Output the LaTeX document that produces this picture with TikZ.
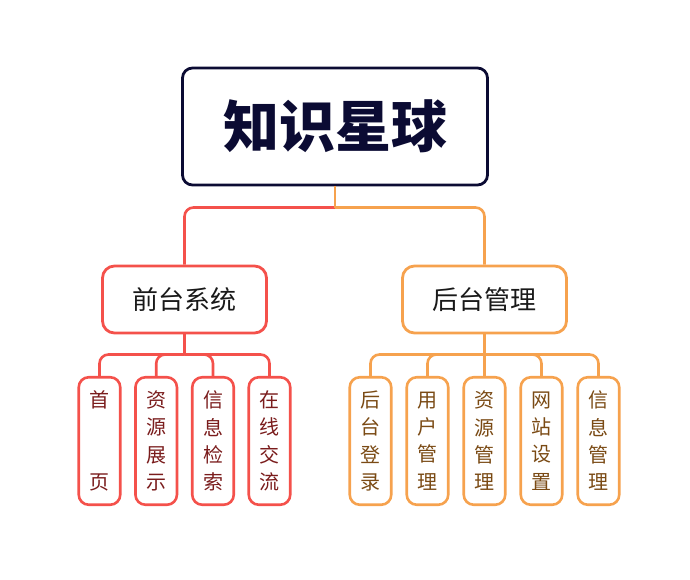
\documentclass[tikz,border=0pt]{standalone}
\usepackage{fontspec}
\setmainfont{Noto Sans CJK SC}
\usetikzlibrary{positioning, calc}
\definecolor{navy}{HTML}{0B0B33}
\definecolor{redline}{HTML}{F4514B}
\definecolor{orangeline}{HTML}{F6A24E}
\definecolor{redtext}{HTML}{7A1C1C}
\definecolor{browntext}{HTML}{7A4A14}

\begin{document}
\begin{tikzpicture}[x=1pt, y=-1pt,
    rootbox/.style={draw=navy, line width=2.8pt, rounded corners=10pt,
        minimum width=305pt, minimum height=117pt, text=navy,
        font=\fontsize{56}{60}\selectfont\bfseries},
    midbox/.style={draw=#1, line width=2.8pt, rounded corners=12pt,
        minimum width=164pt, minimum height=67pt, text=black!90,
        font=\fontsize{26}{30}\selectfont},
    leafbox/.style={draw=#1, line width=2.6pt, rounded corners=10pt,
        minimum width=41.5pt, minimum height=127.5pt, inner sep=0pt,
        align=center, font=\fontsize{20}{27.3}\selectfont},
    link/.style={draw=#1, line width=2.6pt, rounded corners=9pt}]
    \useasboundingbox (0,0) rectangle (690,579);

    % top
    \node[rootbox] (root) at (335,126.5) {知识星球};
    \node[midbox=redline] (front) at (184.5,299.5) {前台系统};
    \node[midbox=orangeline] (back) at (484.5,299.5) {后台管理};

    % leaves
    \foreach \i/\x/\txt in {1/99.5/{首\\\mbox{}\\\mbox{}\\页},
                            2/156.2/{资\\源\\展\\示},
                            3/213/{信\\息\\检\\索},
                            4/269.5/{在\\线\\交\\流}}
        \node[leafbox=redline, text=redtext] (f\i) at (\x,441) {\txt};
    \foreach \i/\x/\txt in {1/370.5/{后\\台\\登\\录},
                            2/427.5/{用\\户\\管\\理},
                            3/484.5/{资\\源\\管\\理},
                            4/541.5/{网\\站\\设\\置},
                            5/598.5/{信\\息\\管\\理}}
        \node[leafbox=orangeline, text=browntext] (b\i) at (\x,441) {\txt};

    % connectors
    \coordinate (roothub) at (root.south |- 0,207.5);
    \coordinate (fronthub) at (front.south |- 0,354.5);
    \coordinate (backhub) at (back.south |- 0,354.5);
    \draw[link=redline] (roothub) -| (front.north);
    \draw[link=orangeline] (roothub) -| (back.north);
    \draw[link=orangeline] (root.south) -- (roothub);
    \foreach \i in {1,...,4}
        \draw[link=redline] (fronthub) -| (f\i.north);
    \draw[link=redline] (front.south) -- (fronthub);
    \foreach \i in {1,...,5}
        \draw[link=orangeline] (backhub) -| (b\i.north);
    \draw[link=orangeline] (back.south) -- (backhub);
\end{tikzpicture}
\end{document}
